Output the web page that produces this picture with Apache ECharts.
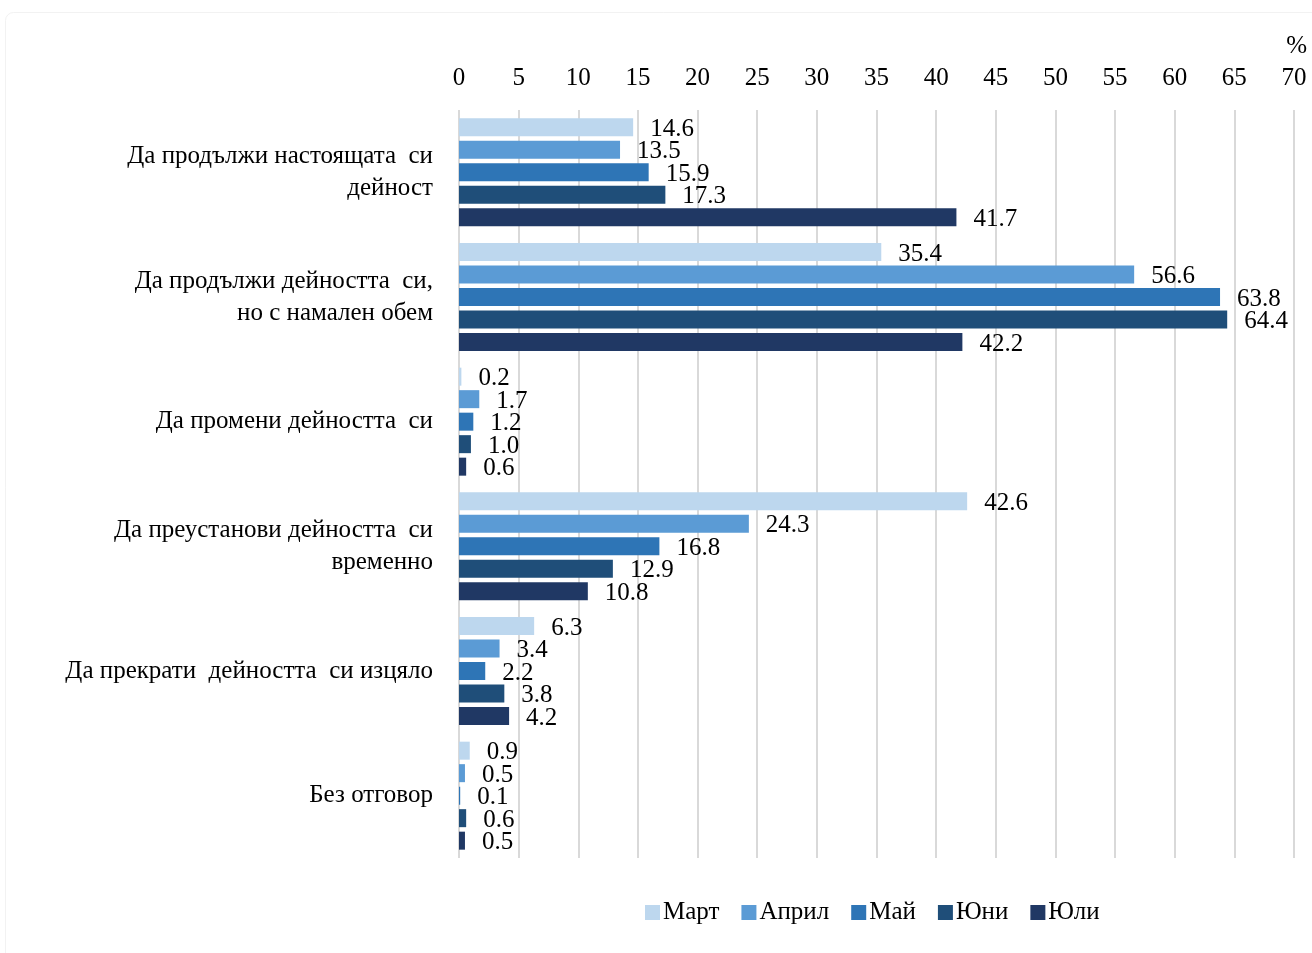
<!DOCTYPE html>
<html>
<head>
<meta charset="utf-8">
<script src="https://cdn.jsdelivr.net/npm/echarts@6/dist/echarts.min.js"></script>
<style>html,body{margin:0;padding:0;background:#fff;}#c{width:1312px;height:953px;}</style>
</head>
<body>
<div id="c"></div>
<script>
var categories = [
  'Да продължи настоящата  си\nдейност',
  'Да продължи дейността  си,\nно с намален обем',
  'Да промени дейността  си',
  'Да преустанови дейността  си\nвременно',
  'Да прекрати  дейността  си изцяло',
  'Без отговор'
];
var seriesNames = ['Март', 'Април', 'Май', 'Юни', 'Юли'];
var mart  = [14.6, 35.4, 0.2, 42.6, 6.3, 0.9];
var april = [13.5, 56.6, 1.7, 24.3, 3.4, 0.5];
var mai   = [15.9, 63.8, 1.2, 16.8, 2.2, 0.1];
var yuni  = [17.3, 64.4, 1.0, 12.9, 3.8, 0.6];
var yuli  = [41.7, 42.2, 0.6, 10.8, 4.2, 0.5];
var xTicks = [0, 70, 5];
var colors = ['#BDD7EE', '#5B9BD5', '#2E75B6', '#1F4E79', '#203864'];
var values = [mart, april, mai, yuni, yuli];
var FONT = '"Liberation Serif", "Times New Roman", serif';

var chart = echarts.init(document.getElementById('c'));
var series = seriesNames.map(function (n, i) {
  return {
    name: n,
    type: 'bar',
    data: values[i],
    barWidth: 18,
    barGap: '25%',
    itemStyle: { color: colors[i] },
    label: {
      show: true,
      position: 'right',
      distance: 17,
      offset: [0, 2],
      color: '#000',
      fontFamily: FONT,
      fontSize: 25,
      formatter: function (p) { return p.value.toFixed(1); }
    }
  };
});
chart.setOption({
  animation: false,
  backgroundColor: '#fff',
  textStyle: { fontFamily: FONT },
  grid: { left: 459, right: 18, top: 110, bottom: 95, containLabel: false },
  legend: {
    data: seriesNames,
    left: 640,
    top: 895,
    itemWidth: 15,
    itemHeight: 15,
    itemGap: 22,
    icon: 'rect',
    textStyle: { fontFamily: FONT, fontSize: 25, color: '#000', padding: [0, 0, 0, -2] }
  },
  graphic: [{
    type: 'rect',
    left: 3,
    top: 10,
    shape: { width: 1320, height: 960, r: 8 },
    style: { fill: 'none', stroke: '#F2F2F2', lineWidth: 1 },
    silent: true
  }, {
    type: 'text',
    right: 5,
    top: 34,
    style: { text: '%', font: '25px ' + FONT, fill: '#000' }
  }],
  xAxis: {
    type: 'value',
    position: 'top',
    min: xTicks[0],
    max: xTicks[1],
    interval: xTicks[2],
    axisLine: { show: false },
    axisTick: { show: false },
    axisLabel: { margin: 19, color: '#000', fontFamily: FONT, fontSize: 25 },
    splitLine: { show: true, lineStyle: { color: '#D9D9D9', width: 2 } }
  },
  yAxis: {
    type: 'category',
    inverse: true,
    data: categories,
    axisLine: { show: false },
    axisTick: { show: false },
    axisLabel: {
      margin: 26,
      color: '#000',
      fontFamily: FONT,
      fontSize: 25,
      lineHeight: 32,
      align: 'right',
      padding: [4, 0, 0, 0]
    }
  },
  series: series
});
</script>
</body>
</html>
